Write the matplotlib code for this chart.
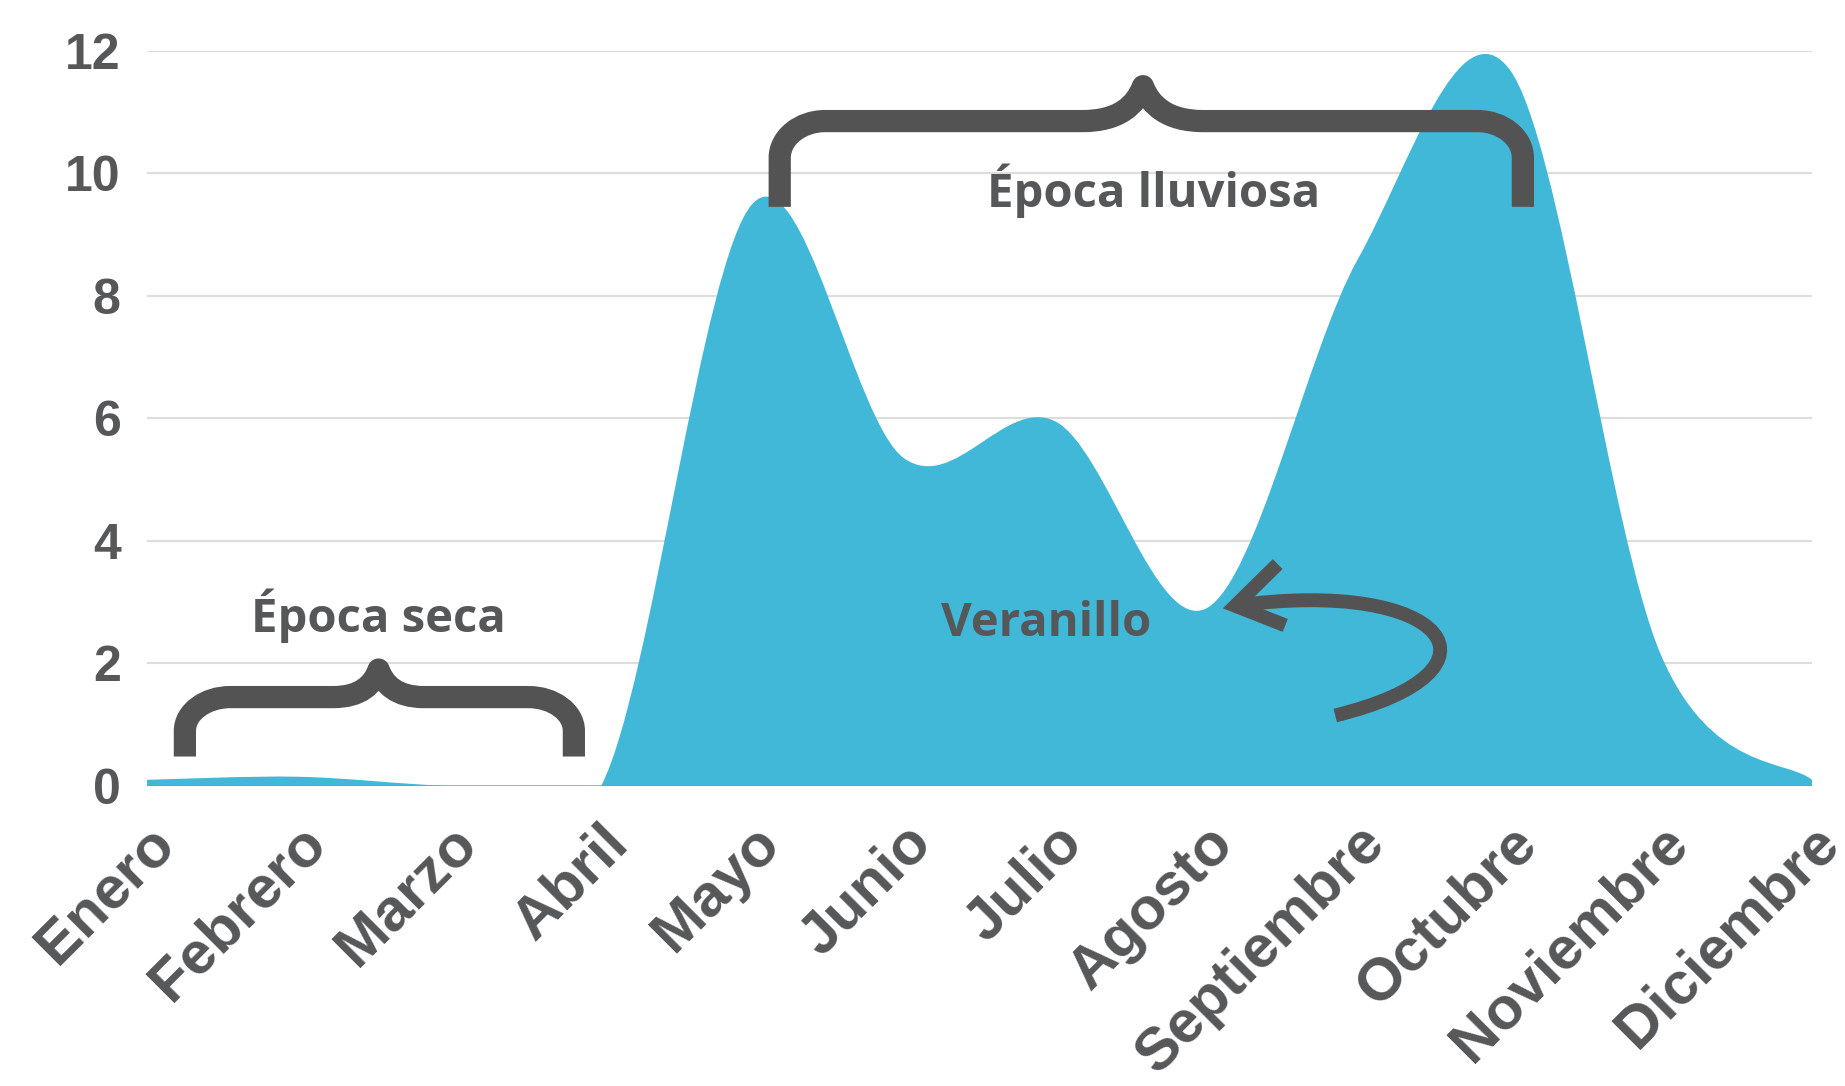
import numpy as np
import matplotlib
matplotlib.use("Agg")
import matplotlib.pyplot as plt
from matplotlib.path import Path
from matplotlib.patches import PathPatch
from matplotlib.transforms import ScaledTranslation

months = ["Enero", "Febrero", "Marzo", "Abril", "Mayo", "Junio", "Julio",
          "Agosto", "Septiembre", "Octubre", "Noviembre", "Diciembre"]
rain = [0.1, 0.15, 0.0, 0.0, 9.5, 5.35, 5.95, 2.9, 8.6, 11.7, 2.15, 0.1]
yticks = [0, 2, 4, 6, 8, 10, 12]

FILL = "#42b8d8"
TXT = "#555759"
INK = "#535353"


def smooth_path(xs, ys):
    # uniform catmull-rom through the points, as cubic bezier segments
    pts = np.column_stack([xs, ys]).astype(float)
    n = len(pts)
    verts = [pts[0]]
    codes = [Path.MOVETO]
    for i in range(n - 1):
        p0 = pts[max(i - 1, 0)]
        p1, p2 = pts[i], pts[i + 1]
        p3 = pts[min(i + 2, n - 1)]
        verts += [p1 + (p2 - p0) / 6, p2 - (p3 - p1) / 6, p2]
        codes += [Path.CURVE4] * 3
    return np.array(verts), codes


def brace(x0, x1, xm, y_end, y_bar, y_tip, rx, ry, w=0.4):
    k = 0.45
    verts = [(x0, y_end), (x0, y_bar - ry),
             (x0, y_bar - ry * k), (x0 + rx * k, y_bar), (x0 + rx, y_bar),
             (xm - w, y_bar),
             (xm - w * 0.4, y_bar), (xm - w * 0.12, y_bar + 0.45 * (y_tip - y_bar)), (xm, y_tip),
             (xm + w * 0.12, y_bar + 0.45 * (y_tip - y_bar)), (xm + w * 0.4, y_bar), (xm + w, y_bar),
             (x1 - rx, y_bar),
             (x1 - rx * k, y_bar), (x1, y_bar - ry * k), (x1, y_bar - ry),
             (x1, y_end)]
    codes = [Path.MOVETO, Path.LINETO,
             Path.CURVE4, Path.CURVE4, Path.CURVE4,
             Path.LINETO,
             Path.CURVE4, Path.CURVE4, Path.CURVE4,
             Path.CURVE4, Path.CURVE4, Path.CURVE4,
             Path.LINETO,
             Path.CURVE4, Path.CURVE4, Path.CURVE4,
             Path.LINETO]
    return Path(verts, codes)


fig = plt.figure(figsize=(18.45, 10.86), dpi=100)
ax = fig.add_axes([0.0797, 0.2763, 0.9024, 0.6771])
x = np.arange(len(months))
ax.set_xlim(0, len(months) - 1)
ax.set_ylim(0, 12)

verts, codes = smooth_path(x, rain)
verts = np.vstack([verts, [[x[-1], 0], [x[0], 0], [x[0], 0]]])
codes = codes + [Path.LINETO, Path.LINETO, Path.CLOSEPOLY]
ax.add_patch(PathPatch(Path(verts, codes), facecolor=FILL, edgecolor="none", zorder=2))
ax.axhline(0, color="#8a8f92", lw=2, alpha=0.6, zorder=3)

ax.set_yticks(yticks)
ax.set_xticks(x)
ax.set_xticklabels(months)
ax.grid(True, axis="y", color="#dddddd", lw=1.5, zorder=0)
ax.set_axisbelow(True)
for s in ax.spines.values():
    s.set_visible(False)
ax.tick_params(length=0)
ax.tick_params(axis="y", pad=19, labelsize=36, labelcolor=TXT)
ax.tick_params(axis="x", pad=21, labelsize=43, labelcolor=TXT)
for lab in ax.get_yticklabels():
    lab.set_fontfamily("Liberation Sans")
    lab.set_fontweight("bold")
for lab in ax.get_xticklabels():
    lab.set_fontfamily("Liberation Sans")
    lab.set_fontweight("bold")
    lab.set_rotation(45)
    lab.set_ha("right")
    lab.set_va("top")
    lab.set_rotation_mode("anchor")
    lab.set_transform(lab.get_transform() + ScaledTranslation(-0.01, 0, fig.dpi_scale_trans))

# braces, arrow and labels
for b in (brace(4.18, 9.09, 6.58, 9.45, 10.85, 11.42, 0.3, 0.6),
          brace(0.25, 2.82, 1.53, 0.48, 1.45, 1.9, 0.3, 0.55, w=0.3)):
    ax.add_patch(PathPatch(b, facecolor="none", edgecolor=INK, lw=16,
                           capstyle="butt", joinstyle="round", zorder=5, clip_on=False))

arrow = Path([(7.85, 1.15), (9.06, 1.88), (8.59, 3.42), (7.19, 2.94)],
             [Path.MOVETO, Path.CURVE4, Path.CURVE4, Path.CURVE4])
ax.add_patch(PathPatch(arrow, facecolor="none", edgecolor=INK, lw=10,
                       capstyle="butt", zorder=5))
ax.plot([7.47, 7.19, 7.52], [3.62, 2.94, 2.62], color=INK, lw=10,
        solid_joinstyle="miter", solid_capstyle="butt", zorder=5)

tfont = dict(family="Open Sans", weight="bold", size=34, color=TXT,
             ha="center", va="center", zorder=6)
ax.text(6.65, 9.72, "Época lluviosa", **tfont)
ax.text(1.53, 2.78, "Época seca", **tfont)
ax.text(5.94, 2.65, "Veranillo", **tfont)

fig.savefig("out.png", dpi=100)
